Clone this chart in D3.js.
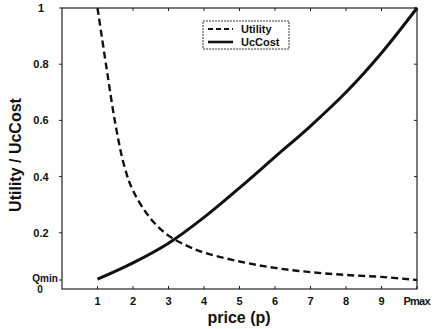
<!DOCTYPE html>
<html>
<head>
<meta charset="utf-8">
<script src="https://cdn.jsdelivr.net/npm/d3@7"></script>
<style>
  body { margin: 0; background: #fff; }
  text { font-family: "Liberation Sans", Arial, sans-serif; font-weight: bold; fill: #111; }
</style>
</head>
<body>
<svg id="chart" width="432" height="329"></svg>
<script>
// values
var utilityP = [1, 1.25, 1.5, 1.75, 2, 2.5, 3, 3.5, 4, 5, 6, 7, 8, 9, 10];
var utility  = [1, 0.79, 0.59, 0.44, 0.35, 0.25, 0.19, 0.155, 0.13, 0.098, 0.075, 0.06, 0.05, 0.043, 0.032];
var costP  = [1, 2, 3, 4, 5, 6, 7, 8, 9, 10];
var ucCost = [0.035, 0.093, 0.163, 0.255, 0.36, 0.47, 0.58, 0.70, 0.84, 1.0];
var xTicks = [1, 2, 3, 4, 5, 6, 7, 8, 9, 10];
var xTickLabels = ["1", "2", "3", "4", "5", "6", "7", "8", "9", "Pmax"];
var yTicks = [0.2, 0.4, 0.6, 0.8, 1];
var yTickLabels = ["0.2", "0.4", "0.6", "0.8", "1"];
var qmin = 0.032;

var svg = d3.select("#chart");
var mLeft = 62, mRight = 417, mTop = 8, mBottom = 289;

var x = d3.scaleLinear().domain([0, 10]).range([mLeft, mRight]);
var y = d3.scaleLinear().domain([0, 1]).range([mBottom, mTop]);

// frame
svg.append("rect")
  .attr("x", mLeft).attr("y", mTop)
  .attr("width", mRight - mLeft).attr("height", mBottom - mTop)
  .attr("fill", "none").attr("stroke", "#222").attr("stroke-width", 1.2);

// ticks: bottom and top inward, left outward, right inward
var g = svg.append("g").attr("stroke", "#222").attr("stroke-width", 1);
xTicks.forEach(function(t) {
  g.append("line").attr("x1", x(t)).attr("x2", x(t)).attr("y1", mBottom).attr("y2", mBottom - 3);
  g.append("line").attr("x1", x(t)).attr("x2", x(t)).attr("y1", mTop).attr("y2", mTop + 3);
});
yTicks.concat([qmin]).forEach(function(t) {
  g.append("line").attr("x1", mLeft).attr("x2", mLeft - 3).attr("y1", y(t)).attr("y2", y(t));
  g.append("line").attr("x1", mRight).attr("x2", mRight - 3).attr("y1", y(t)).attr("y2", y(t));
});

// tick labels
svg.selectAll(".xl").data(xTicks).enter().append("text")
  .attr("x", function(d) { return x(d); })
  .attr("y", 305)
  .attr("text-anchor", "middle")
  .attr("font-size", 11)
  .attr("textLength", function(d, i) { return i === 9 ? 27 : null; })
  .text(function(d, i) { return xTickLabels[i]; });

svg.selectAll(".yl").data(yTicks).enter().append("text")
  .attr("x", 41)
  .attr("y", function(d) { return y(d) + 4; })
  .attr("text-anchor", "middle")
  .attr("font-size", 11)
  .text(function(d, i) { return yTickLabels[i]; });

svg.append("text").attr("x", 45).attr("y", y(qmin) + 2)
  .attr("text-anchor", "middle").attr("font-size", 10).text("Qmin");
svg.append("text").attr("x", 40).attr("y", y(qmin) + 13)
  .attr("text-anchor", "middle").attr("font-size", 10).text("0");

// axis titles
svg.append("text").attr("x", 239).attr("y", 323)
  .attr("text-anchor", "middle").attr("font-size", 16).text("price (p)");
svg.append("text")
  .attr("transform", "translate(21,155) rotate(-90)")
  .attr("text-anchor", "middle").attr("font-size", 16).text("Utility / UcCost");

// curves
var line = d3.line()
  .x(function(d) { return x(d[0]); })
  .y(function(d) { return y(d[1]); })
  .curve(d3.curveCatmullRom.alpha(0.5));

svg.append("path")
  .datum(d3.zip(utilityP, utility))
  .attr("d", line)
  .attr("fill", "none").attr("stroke", "#111")
  .attr("stroke-width", 2.4).attr("stroke-dasharray", "7,4");

svg.append("path")
  .datum(d3.zip(costP, ucCost))
  .attr("d", line)
  .attr("fill", "none").attr("stroke", "#111")
  .attr("stroke-width", 3);

// legend
var lg = svg.append("g");
lg.append("rect").attr("x", 203).attr("y", 21).attr("width", 86).attr("height", 28)
  .attr("fill", "#fff").attr("stroke", "#333").attr("stroke-width", 1).attr("stroke-dasharray", "2,1");
lg.append("line").attr("x1", 208).attr("x2", 233).attr("y1", 29).attr("y2", 29)
  .attr("stroke", "#111").attr("stroke-width", 2.2).attr("stroke-dasharray", "5,3");
lg.append("line").attr("x1", 208).attr("x2", 233).attr("y1", 42).attr("y2", 42)
  .attr("stroke", "#111").attr("stroke-width", 2.6);
lg.append("text").attr("x", 241).attr("y", 33).attr("font-size", 11).text("Utility");
lg.append("text").attr("x", 241).attr("y", 46).attr("font-size", 11).text("UcCost");
</script>
</body>
</html>
